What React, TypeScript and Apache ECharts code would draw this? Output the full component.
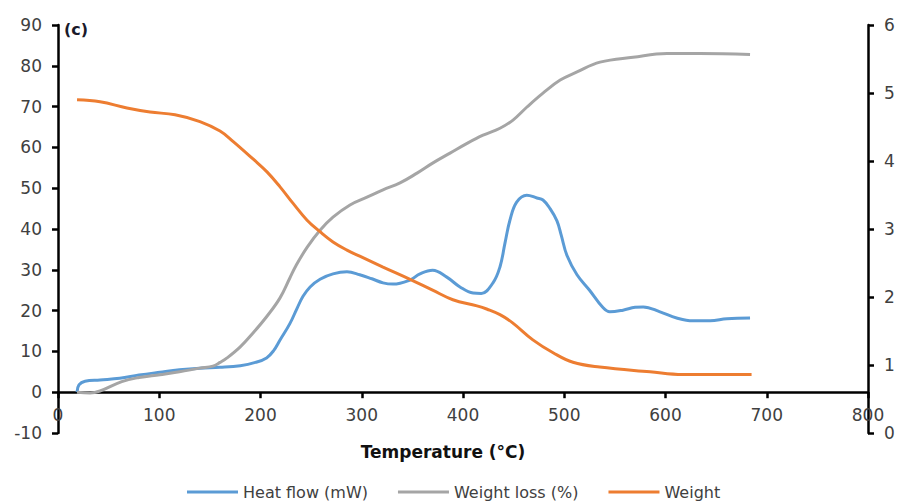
import React, { useEffect, useRef } from "react";
import * as echarts from "echarts";

// Thermal analysis (DSC/TGA) traces
const heatFlowT = [18.8, 20.7, 26.7, 41.5, 61, 80, 100.7, 120, 140, 160, 180, 195, 206, 213, 219.3, 229, 236, 242, 249, 258.8, 271.6, 285.4, 298, 310, 321, 330.9, 347.7, 357.5, 370, 384, 397, 410, 418, 429.6, 436.5, 441.5, 446.4, 453, 463, 473, 479, 486, 492.8, 497, 502.7, 512.6, 525, 538, 545, 558, 570, 578, 594.6, 611, 627, 644, 660.7, 683.5];
const heatFlowMw = [0, 1.8, 2.7, 3.0, 3.4, 4.2, 4.9, 5.5, 5.9, 6.1, 6.5, 7.3, 8.4, 10.2, 12.8, 16.8, 20.5, 23.5, 25.8, 27.7, 29, 29.5, 28.8, 27.8, 26.8, 26.5, 27.5, 29.0, 29.9, 28.2, 25.8, 24.3, 24.2, 26.8, 30.7, 36.6, 42.2, 46.6, 48.3, 47.6, 47.1, 45, 42, 38.5, 33.5, 28.8, 25, 20.8, 19.7, 20.1, 20.8, 20.9, 19.7, 18.2, 17.5, 17.5, 18.0, 18.2];

const weightLossT = [18.8, 31.6, 41.5, 63, 80, 100.7, 120, 140, 153, 160, 167, 180, 192.6, 206, 219, 229, 235, 246, 258.8, 271.6, 288.4, 305.2, 321, 337.8, 354.6, 370.4, 387.2, 404, 419.8, 436.5, 449.4, 463.2, 479, 496, 512.6, 535.3, 568, 601.5, 634, 683.5];
const weightLossPct = [0, -0.2, 0.3, 2.6, 3.6, 4.3, 5.0, 5.9, 6.4, 7.3, 8.4, 11.1, 14.5, 18.5, 23, 28, 31, 35.5, 39.7, 42.9, 45.9, 47.8, 49.6, 51.3, 53.7, 56.2, 58.6, 61.0, 63.0, 64.7, 66.7, 69.9, 73.3, 76.5, 78.5, 80.9, 82.1, 83.0, 83.0, 82.8];

const weightT = [18.8, 41.5, 68.1, 90.9, 115.6, 140.2, 160, 172.8, 192.6, 206.4, 219.3, 232, 246, 258.8, 271.6, 285.4, 298, 321, 347.7, 370, 390, 413.8, 424, 436.5, 449, 469, 489, 508.6, 535, 584.7, 617, 685];
const weightMg = [4.9, 4.87, 4.78, 4.72, 4.68, 4.58, 4.44, 4.29, 4.03, 3.84, 3.62, 3.38, 3.13, 2.96, 2.81, 2.69, 2.6, 2.44, 2.26, 2.1, 1.96, 1.87, 1.82, 1.74, 1.62, 1.37, 1.18, 1.04, 0.97, 0.9, 0.86, 0.86];

const xTicks = { min: 0, max: 800, interval: 100 };
const leftTicks = { min: -10, max: 90, interval: 10 };
const rightTicks = { min: 0, max: 6, interval: 1 };

const pairs = (xs: number[], ys: number[]) => xs.map((x, i) => [x, ys[i]]);

const FONT = "DejaVu Sans";
const GRID_TOP = 25;
const GRID_BOTTOM = 69;
const GRID_HEIGHT = 502 - GRID_TOP - GRID_BOTTOM;
// lift the temperature axis from the grid floor up to the heat-flow zero line
const X_AXIS_OFFSET =
  -GRID_HEIGHT * ((0 - leftTicks.min) / (leftTicks.max - leftTicks.min));

const AXIS_LINE = { show: true, lineStyle: { color: "#000", width: 2.5 } };
const AXIS_TICK = { show: true, inside: false, length: 6, lineStyle: { color: "#000", width: 2.5 } };
const LABEL = { color: "#404040", fontFamily: FONT, fontSize: 17 };

export default function App() {
  const ref = useRef<HTMLDivElement>(null);

  useEffect(() => {
    if (!ref.current) return;
    const chart = echarts.init(ref.current, undefined, { renderer: "svg" });
    chart.setOption({
      animation: false,
      backgroundColor: "#fff",
      grid: { left: 58, right: 32, top: GRID_TOP, bottom: GRID_BOTTOM, containLabel: false },
      xAxis: {
        type: "value",
        position: "bottom",
        offset: X_AXIS_OFFSET,
        ...xTicks,
        axisLine: { ...AXIS_LINE, onZero: false },
        axisTick: AXIS_TICK,
        axisLabel: { ...LABEL, margin: 14, showMinLabel: true, showMaxLabel: true },
        splitLine: { show: false },
      },
      yAxis: [
        {
          type: "value",
          position: "left",
          ...leftTicks,
          axisLine: { ...AXIS_LINE, onZero: false },
          axisTick: AXIS_TICK,
          axisLabel: { ...LABEL, margin: 16 },
          splitLine: { show: false },
        },
        {
          type: "value",
          position: "right",
          ...rightTicks,
          axisLine: { ...AXIS_LINE, onZero: false },
          axisTick: AXIS_TICK,
          axisLabel: { ...LABEL, margin: 16 },
          splitLine: { show: false },
        },
      ],
      legend: {
        left: 182,
        top: 479,
        icon: "rect",
        itemWidth: 51,
        itemHeight: 3,
        itemGap: 30,
        textStyle: { color: "#404040", fontFamily: FONT, fontSize: 16 },
        data: ["Heat flow (mW)", "Weight loss (%)", "Weight"],
      },
      graphic: [
        {
          type: "text",
          x: 443,
          y: 452,
          style: {
            text: "Temperature (°C)",
            fill: "#111",
            font: `bold 17px "${FONT}"`,
            textAlign: "center",
            textVerticalAlign: "middle",
          },
        },
        {
          type: "text",
          x: 64,
          y: 29,
          style: {
            text: "(c)",
            fill: "#1a1a2a",
            font: `bold 16px "${FONT}"`,
            textAlign: "left",
            textVerticalAlign: "middle",
          },
        },
      ],
      series: [
        {
          name: "Heat flow (mW)",
          type: "line",
          yAxisIndex: 0,
          data: pairs(heatFlowT, heatFlowMw),
          smooth: 0.4,
          symbol: "none",
          color: "#5B9BD5",
          lineStyle: { width: 3, color: "#5B9BD5" },
        },
        {
          name: "Weight loss (%)",
          type: "line",
          yAxisIndex: 0,
          data: pairs(weightLossT, weightLossPct),
          smooth: 0.4,
          symbol: "none",
          color: "#A5A5A5",
          lineStyle: { width: 3, color: "#A5A5A5" },
        },
        {
          name: "Weight",
          type: "line",
          yAxisIndex: 1,
          data: pairs(weightT, weightMg),
          smooth: 0.4,
          symbol: "none",
          color: "#ED7D31",
          lineStyle: { width: 3, color: "#ED7D31" },
        },
      ],
    });
    return () => chart.dispose();
  }, []);

  return <div ref={ref} style={{ width: 900, height: 502, position: "absolute", left: 0, top: 0 }} />;
}
